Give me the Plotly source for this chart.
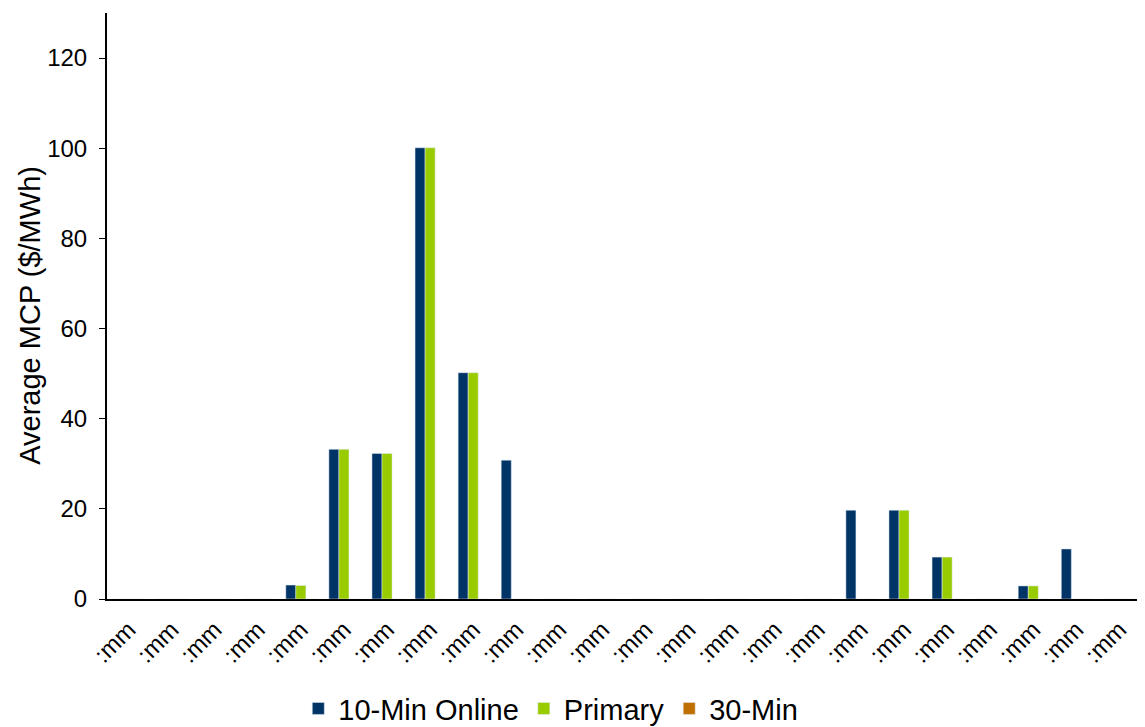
import plotly.graph_objects as go

categories = [f"c{i}" for i in range(24)]
tick_labels = [":mm"] * 24
online_10min = [0, 0, 0, 0, 3.1, 33.2, 32.3, 100.1, 50.2, 30.8, 0, 0, 0, 0, 0, 0, 0, 19.7, 19.7, 9.3, 0, 2.9, 11.1, 0]
primary = [0, 0, 0, 0, 3.0, 33.2, 32.3, 100.1, 50.2, 0, 0, 0, 0, 0, 0, 0, 0, 0, 19.7, 9.3, 0, 2.9, 0, 0]
min_30 = [0] * 24
y_title = "Average MCP ($/MWh)"

FONT = "Liberation Sans, Arial, sans-serif"

fig = go.Figure()
fig.add_bar(x=categories, y=online_10min, name="10-Min Online", marker_color="#003366")
fig.add_bar(x=categories, y=primary, name="Primary", marker_color="#99CC00")
fig.add_bar(x=categories, y=min_30, name="30-Min", marker_color="#C07000")

fig.update_layout(
    width=1137, height=719,
    margin=dict(l=99, r=4, t=5, b=128, autoexpand=False),
    paper_bgcolor="white", plot_bgcolor="white",
    barmode="group", bargap=0.3, bargroupgap=0,
    font=dict(family=FONT, color="#000000"),
    legend=dict(orientation="h", x=0.185, xanchor="left", y=-0.187, yanchor="middle",
                font=dict(size=29, family=FONT), itemwidth=30, traceorder="normal"),
    showlegend=True,
)
fig.add_annotation(
    text=y_title, textangle=-90, xref="paper", yref="paper",
    x=-0.0745, y=0.485, xanchor="center", yanchor="middle", showarrow=False,
    font=dict(size=29, family=FONT, color="#000000"),
)
fig.update_xaxes(
    type="category", tickmode="array", tickvals=categories, ticktext=tick_labels,
    tickangle=-45, tickfont=dict(size=24, family=FONT), automargin=False,
    ticklabelstandoff=5,
    showline=True, linecolor="#000000", linewidth=2, ticks="", showgrid=False,
)
fig.update_yaxes(
    range=[0, 130], tickvals=[0, 20, 40, 60, 80, 100, 120], automargin=False,
    tickfont=dict(size=24, family=FONT), ticks="outside", ticklen=6, tickcolor="#000000",
    ticklabelstandoff=7,
    showline=True, linecolor="#000000", linewidth=2, showgrid=False, zeroline=False,
)
fig.write_html("out.html")
